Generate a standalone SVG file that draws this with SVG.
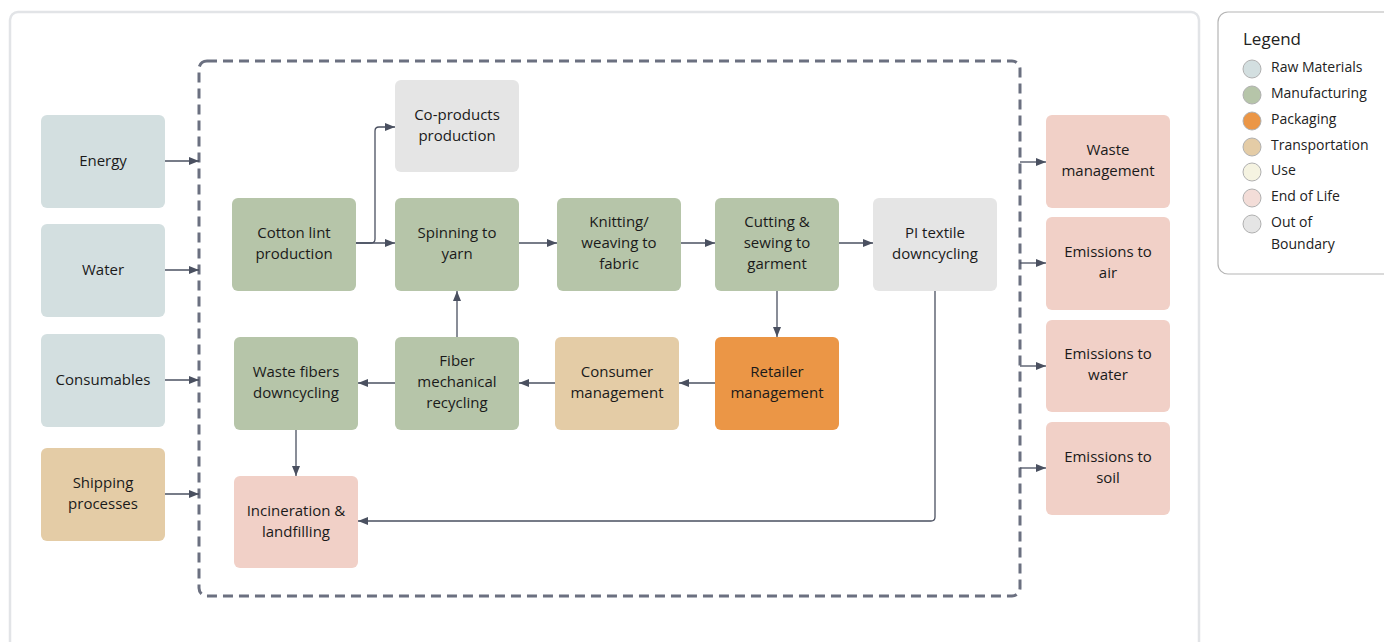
<svg xmlns="http://www.w3.org/2000/svg" width="1384" height="642" viewBox="0 0 1384 642">
<style>
.raw{fill:#d3dfe0}.mfg{fill:#b6c5a9}.pkg{fill:#eb9646}.trn{fill:#e4cca6}.use{fill:#f5f3e1}.eol{fill:#f1d0c7}.oob{fill:#e5e5e5}
text{font-family:"Open Sans","Liberation Sans",sans-serif;font-size:15px;fill:#1a1a1a;text-anchor:middle;dominant-baseline:central;transform:translateY(-1.5px)}
.lg{font-size:14px;text-anchor:start;fill:#222}
.lt{font-size:17px;text-anchor:start;fill:#222}
.c{fill:none;stroke:#4a5060;stroke-width:1.3;marker-end:url(#ah)}
.lc{stroke:#b0b0b0;stroke-width:1}
</style>
<defs>
<marker id="ah" viewBox="0 0 10 8" refX="10" refY="4" markerWidth="10" markerHeight="8" markerUnits="userSpaceOnUse" orient="auto">
<path d="M0,0L10,4L0,8z" fill="#4a5060"/>
</marker>
</defs>
<rect x="0" y="0" width="1384" height="642" fill="#ffffff"/>
<rect x="10" y="12" width="1189" height="660" rx="8" fill="none" stroke="#e2e4e7" stroke-width="2.5"/>
<rect x="199" y="61" width="821" height="535" rx="8" fill="none" stroke="#6b7080" stroke-width="3" stroke-dasharray="10,6"/>

<g id="legend">
<rect x="1218" y="12" width="180" height="262" rx="10" fill="#fff" stroke="#b5b5b5" stroke-width="1.2"/>
<text class="lt" x="1243" y="40">Legend</text>
<circle cx="1252" cy="69" r="9" class="raw lc"/><text class="lg" x="1271" y="68">Raw Materials</text>
<circle cx="1252" cy="95" r="9" class="mfg lc"/><text class="lg" x="1271" y="94">Manufacturing</text>
<circle cx="1252" cy="121" r="9" class="pkg lc"/><text class="lg" x="1271" y="120">Packaging</text>
<circle cx="1252" cy="147" r="9" class="trn lc"/><text class="lg" x="1271" y="146">Transportation</text>
<circle cx="1252" cy="172" r="9" class="use lc"/><text class="lg" x="1271" y="171">Use</text>
<circle cx="1252" cy="198" r="9" class="lc" fill="#f3ddd8"/><text class="lg" x="1271" y="197">End of Life</text>
<circle cx="1252" cy="224" r="9" class="oob lc"/><text class="lg" x="1271" y="223">Out of</text><text class="lg" x="1271" y="245">Boundary</text>
</g>

<g id="connectors">
<path class="c" d="M165,161H199"/>
<path class="c" d="M165,270H199"/>
<path class="c" d="M165,380H199"/>
<path class="c" d="M165,494H199"/>
<path class="c" d="M1020,162H1046"/>
<path class="c" d="M1020,263H1046"/>
<path class="c" d="M1020,366H1046"/>
<path class="c" d="M1020,468H1046"/>
<path class="c" d="M356,243H395"/>
<path class="c" d="M356,243H371Q375,243 375,239V131Q375,127 379,127H395"/>
<path class="c" d="M519,243H557"/>
<path class="c" d="M681,243H715"/>
<path class="c" d="M839,243H873"/>
<path class="c" d="M777,291V337"/>
<path class="c" d="M715,383H679"/>
<path class="c" d="M555,383H519"/>
<path class="c" d="M457,337V291"/>
<path class="c" d="M395,383H358"/>
<path class="c" d="M296,430V476"/>
<path class="c" d="M935,291V517Q935,521 931,521H358"/>
</g>

<g id="energy"><rect x="41" y="115" width="124" height="93" rx="6" class="raw"/><text x="103" y="161">Energy</text></g>
<g id="water"><rect x="41" y="224" width="124" height="93" rx="6" class="raw"/><text x="103" y="270">Water</text></g>
<g id="consumables"><rect x="41" y="334" width="124" height="93" rx="6" class="raw"/><text x="103" y="380">Consumables</text></g>
<g id="shipping"><rect x="41" y="448" width="124" height="93" rx="6" class="trn"/><text x="103" y="483">Shipping</text><text x="103" y="504">processes</text></g>

<g id="coproducts"><rect x="395" y="80" width="124" height="92" rx="6" class="oob"/><text x="457" y="115">Co-products</text><text x="457" y="136">production</text></g>
<g id="cotton"><rect x="232" y="198" width="124" height="93" rx="6" class="mfg"/><text x="294" y="233">Cotton lint</text><text x="294" y="254">production</text></g>
<g id="spinning"><rect x="395" y="198" width="124" height="93" rx="6" class="mfg"/><text x="457" y="233">Spinning to</text><text x="457" y="254">yarn</text></g>
<g id="knitting"><rect x="557" y="198" width="124" height="93" rx="6" class="mfg"/><text x="619" y="222">Knitting/</text><text x="619" y="243">weaving to</text><text x="619" y="264">fabric</text></g>
<g id="cutting"><rect x="715" y="198" width="124" height="93" rx="6" class="mfg"/><text x="777" y="222">Cutting &amp;</text><text x="777" y="243">sewing to</text><text x="777" y="264">garment</text></g>
<g id="pi"><rect x="873" y="198" width="124" height="93" rx="6" class="oob"/><text x="935" y="233">PI textile</text><text x="935" y="254">downcycling</text></g>

<g id="wastefibers"><rect x="234" y="337" width="124" height="93" rx="6" class="mfg"/><text x="296" y="372">Waste fibers</text><text x="296" y="393">downcycling</text></g>
<g id="fiber"><rect x="395" y="337" width="124" height="93" rx="6" class="mfg"/><text x="457" y="361">Fiber</text><text x="457" y="382">mechanical</text><text x="457" y="403">recycling</text></g>
<g id="consumer"><rect x="555" y="337" width="124" height="93" rx="6" class="trn"/><text x="617" y="372">Consumer</text><text x="617" y="393">management</text></g>
<g id="retailer"><rect x="715" y="337" width="124" height="93" rx="6" class="pkg"/><text x="777" y="372">Retailer</text><text x="777" y="393">management</text></g>
<g id="incineration"><rect x="234" y="476" width="124" height="92" rx="6" class="eol"/><text x="296" y="511">Incineration &amp;</text><text x="296" y="532">landfilling</text></g>

<g id="wastemgmt"><rect x="1046" y="115" width="124" height="93" rx="6" class="eol"/><text x="1108" y="150">Waste</text><text x="1108" y="171">management</text></g>
<g id="air"><rect x="1046" y="217" width="124" height="93" rx="6" class="eol"/><text x="1108" y="252">Emissions to</text><text x="1108" y="273">air</text></g>
<g id="waterem"><rect x="1046" y="320" width="124" height="92" rx="6" class="eol"/><text x="1108" y="354">Emissions to</text><text x="1108" y="375">water</text></g>
<g id="soil"><rect x="1046" y="422" width="124" height="93" rx="6" class="eol"/><text x="1108" y="457">Emissions to</text><text x="1108" y="478">soil</text></g>
</svg>
